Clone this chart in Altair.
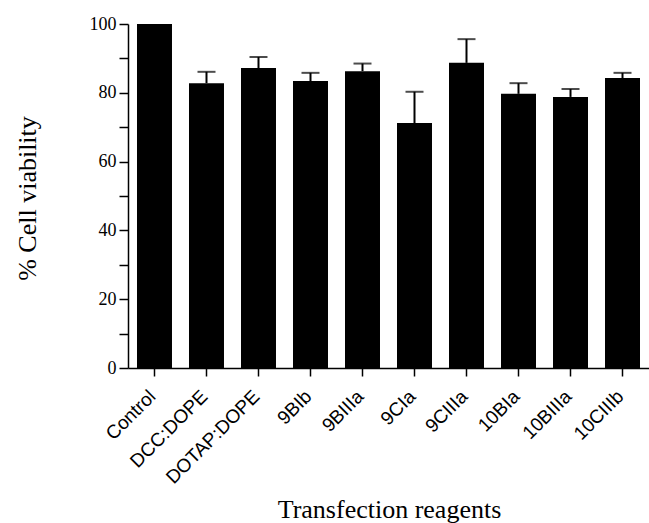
import altair as alt
import pandas as pd

reagents = ["Control", "DCC:DOPE", "DOTAP:DOPE", "9BIb", "9BIIIa", "9CIa",
            "9CIIIa", "10BIa", "10BIIIa", "10CIIIb"]
viability = [100.0, 82.8, 87.2, 83.4, 86.3, 71.2, 88.7, 79.7, 78.8, 84.3]
error_top = [100.0, 86.1, 90.4, 85.8, 88.5, 80.3, 95.6, 82.8, 81.1, 85.8]
major_ticks = [0, 20, 40, 60, 80, 100]
minor_ticks = [10, 30, 50, 70, 90]

df = pd.DataFrame({"reagent": reagents, "v": viability, "top": error_top})
df_err = df[df["reagent"] != "Control"]

xscale = alt.Scale(domain=reagents, paddingInner=0.327, paddingOuter=0.173)
yscale = alt.Scale(domain=[0, 100], nice=False, zero=True)

xaxis = alt.Axis(
    title="Transfection reagents", labelAngle=-45, labelAlign="right",
    labelBaseline="middle", labelFont="Liberation Sans", labelFontSize=19,
    labelPadding=17, labelOffset=-2, tickSize=8, tickWidth=1.5, domainWidth=1.5,
    domainColor="black", tickColor="black", labelColor="black",
    titleFont="Liberation Serif", titleFontSize=26, titleFontWeight="normal",
    titleColor="black", titleX=261, titleY=149, titleAlign="center",
    titleBaseline="alphabetic", grid=False,
)
yaxis = alt.Axis(
    title="% Cell viability", values=major_ticks, labelFont="Liberation Serif",
    labelFontSize=18, labelPadding=3, tickSize=9, tickWidth=1.5,
    domainWidth=1.5, domainColor="black", tickColor="black",
    labelColor="black", titleFont="Liberation Serif", titleFontSize=26,
    titleFontWeight="normal", titleColor="black", titleAngle=-90,
    titleX=-101, titleY=174, titleAlign="center", titleBaseline="middle",
    grid=False, orient="left",
)
yaxis_minor = alt.Axis(
    title=None, values=minor_ticks, labels=False, domain=False, tickSize=9,
    tickWidth=1.5, tickColor="black", grid=False, orient="left",
)

bars = alt.Chart(df).mark_bar(color="black").encode(
    x=alt.X("reagent:N", scale=xscale, axis=xaxis, sort=reagents),
    y=alt.Y("v:Q", scale=yscale, axis=yaxis),
)
stems = alt.Chart(df_err).mark_rule(color="black", strokeWidth=2).encode(
    x=alt.X("reagent:N", scale=xscale, sort=reagents),
    y=alt.Y("v:Q", scale=yscale, axis=yaxis_minor),
    y2="top:Q",
)
caps = alt.Chart(df_err).mark_tick(color="black", thickness=2, size=18).encode(
    x=alt.X("reagent:N", scale=xscale, sort=reagents),
    y=alt.Y("top:Q", scale=yscale, axis=None),
)

chart = alt.layer(bars, stems, caps).resolve_axis(y="independent").properties(
    width=521, height=344,
    autosize=alt.AutoSizeParams(type="none"),
    padding={"left": 128, "top": 24, "right": 0, "bottom": 155},
).configure_view(stroke=None)

chart.save("out.html", embed_options={"renderer": "svg", "actions": False})
